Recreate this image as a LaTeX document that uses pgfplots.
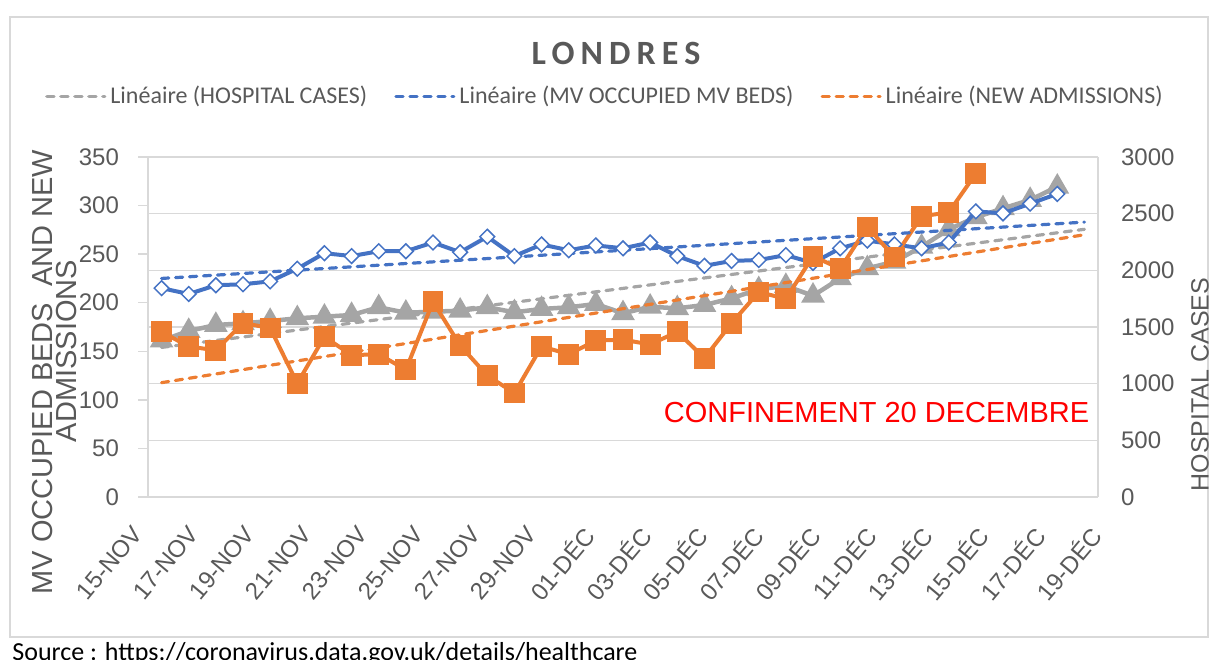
\documentclass[border=0pt]{standalone}
\usepackage{fontspec}
\setmainfont{Liberation Sans}
\newfontfamily\calfont{Carlito}
\newfontfamily\titlefont[LetterSpace=18]{Carlito}
\usepackage{pgfplots}
\pgfplotsset{compat=1.18}

\definecolor{cblue}{HTML}{4472C4}
\definecolor{corange}{HTML}{ED7D31}
\definecolor{cgray}{HTML}{A5A5A5}
\definecolor{linegray}{HTML}{D9D9D9}
\definecolor{textgray}{HTML}{595959}

\pgfplotsset{
  frame/.style={
    at={(74pt,-248.5pt)}, anchor=south west,
    scale only axis, width=475pt, height=170pt,
    xmin=-0.5, xmax=34.5,
    axis line style={draw=linegray, line width=0.75pt, -},
    /pgf/number format/assume math mode=true,
    /pgf/number format/1000 sep={},
    tick label style={font=\fontsize{12}{14}\selectfont, text=textgray},
  },
  trend/.style={line width=1.6pt, line cap=round, dash pattern=on 3.6pt off 3.4pt},
}

\begin{document}
\begin{tikzpicture}
\path[use as bounding box] (0,0) rectangle (609pt,-329.5pt);
\draw[linegray, line width=0.75pt] (5pt,-8.5pt) rectangle (604pt,-318.5pt);

% secondary axis (hospital cases) drawn first, so its grid stays underneath
\begin{axis}[
  frame,
  ymin=0, ymax=3000, ytick={0,500,...,3000},
  axis x line=none, axis y line*=right,
  ymajorgrids, grid style={draw=linegray, line width=0.75pt},
  major y tick style={draw=none},
  yticklabel style={xshift=8pt},
]
% HOSPITAL CASES
\addplot[cgray, line width=2.25pt, mark=triangle*, mark size=4.6pt] coordinates {
  (0,1380) (1,1465) (2,1518) (3,1532) (4,1553) (5,1577) (6,1591) (7,1606)
  (8,1674) (9,1626) (10,1635) (11,1644) (12,1674) (13,1630) (14,1659) (15,1674)
  (16,1703) (17,1621) (18,1679) (19,1665) (20,1694) (21,1753) (22,1833) (23,1862)
  (24,1776) (25,1929) (26,2018) (27,2076) (28,2208) (29,2362) (30,2468) (31,2547)
  (32,2621) (33,2738)
};
% trend
\addplot[trend, cgray] coordinates {(0,1320) (34,2362)};
\end{axis}

% primary axis (MV beds, new admissions)
\begin{axis}[
  frame,
  ymin=0, ymax=350, ytick={0,50,...,350},
  axis x line*=bottom, axis y line*=left,
  tick align=outside, major tick length=5pt,
  major y tick style={draw=linegray, line width=0.75pt},
  major x tick style={draw=none},
  xtick={0,2,...,34},
  xticklabels={15-NOV,17-NOV,19-NOV,21-NOV,23-NOV,25-NOV,27-NOV,29-NOV,
    01-DÉC,03-DÉC,05-DÉC,07-DÉC,09-DÉC,11-DÉC,13-DÉC,15-DÉC,17-DÉC,19-DÉC},
  x tick label style={xshift={(-15.8+1.0*\ticknum)*1pt}, yshift=-3.5pt,
    rotate=50, anchor=north east},
  yticklabel style={xshift=-6pt},
  legend columns=3,
  legend style={draw=none, fill=none, at={(0.482,1.179)}, anchor=center,
    font=\calfont\fontsize{12}{14}\selectfont, text=textgray,
    /tikz/every even column/.append style={column sep=11.5pt},
    inner sep=0pt},
  legend image code/.code={\draw[#1] (0pt,0pt) -- (29pt,0pt);},
]
\addlegendimage{trend, cgray}
\addlegendentry{Linéaire (HOSPITAL CASES)}
\addlegendimage{trend, cblue}
\addlegendentry{Linéaire (MV OCCUPIED MV BEDS)}
\addlegendimage{trend, corange}
\addlegendentry{Linéaire (NEW ADMISSIONS)}
% MV OCCUPIED BEDS
\addplot[cblue, line width=2pt, mark=square*, mark size=2.6pt,
  mark options={rotate=45, fill=white, draw=cblue, line width=0.75pt}, forget plot] coordinates {
  (0,215) (1,209) (2,218) (3,219) (4,222) (5,235) (6,251) (7,248)
  (8,253) (9,253) (10,262) (11,252) (12,268) (13,248) (14,260) (15,254)
  (16,259) (17,256) (18,262) (19,248) (20,238) (21,243) (22,244) (23,249)
  (24,241) (25,256) (26,264) (27,260) (28,256) (29,262) (30,294) (31,292)
  (32,302) (33,312)
};
% NEW ADMISSIONS
\addplot[corange, line width=2pt, mark=square*, mark size=4.2pt, forget plot] coordinates {
  (0,170) (1,155) (2,151) (3,179) (4,174) (5,117) (6,165) (7,146)
  (8,147) (9,131) (10,201) (11,156) (12,125) (13,107) (14,155) (15,147)
  (16,161) (17,162) (18,157) (19,170) (20,143) (21,179) (22,211) (23,204)
  (24,248) (25,235) (26,278) (27,247) (28,289) (29,293) (30,333)
};
% trends
\addplot[trend, cblue, forget plot] coordinates {(0,225) (34,283)};
\addplot[trend, corange, forget plot] coordinates {(0,117.7) (34,270)};
\end{axis}

% titles and texts
\node[font=\titlefont\bfseries\fontsize{17}{19}\selectfont, text=textgray]
  at (308pt,-26.5pt) {LONDRES};
\node[rotate=90, font=\fontsize{14.5}{16}\selectfont, text=textgray]
  at (21.5pt,-186pt) {MV OCCUPIED BEDS \ AND NEW};
\node[rotate=90, font=\fontsize{14.5}{16}\selectfont, text=textgray]
  at (33.3pt,-175.5pt) {ADMISSIONS};
\node[rotate=90, font=\fontsize{12.5}{14}\selectfont, text=textgray]
  at (600pt,-192.3pt) {HOSPITAL CASES};
\node[font=\fontsize{14.5}{16}\selectfont, text=red, inner sep=0pt]
  at (438.3pt,-206.5pt) {CONFINEMENT 20 DECEMBRE};
\node[anchor=base west, font=\calfont\fontsize{13}{15}\selectfont, inner sep=0pt]
  at (6pt,-330pt) {Source : https://coronavirus.data.gov.uk/details/healthcare};
\end{tikzpicture}
\end{document}
